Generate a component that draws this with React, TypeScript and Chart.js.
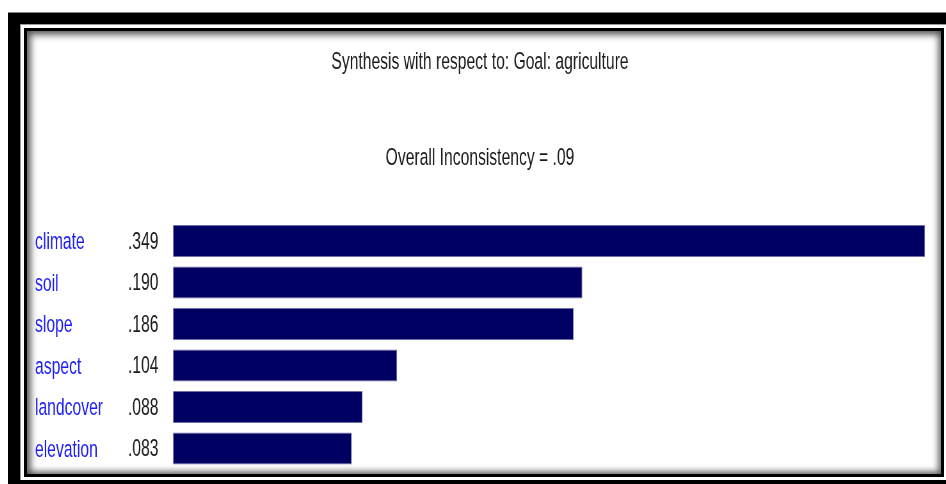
import React, { useEffect, useRef } from 'react';
import { Chart, registerables } from 'chart.js';

Chart.register(...registerables);

const titleText = 'Synthesis with respect to: Goal: agriculture';
const subtitleText = 'Overall Inconsistency = .09';
const categories = ['climate', 'soil', 'slope', 'aspect', 'landcover', 'elevation'];
const priorities = [0.349, 0.19, 0.186, 0.104, 0.088, 0.083];
const valueLabels = ['.349', '.190', '.186', '.104', '.088', '.083'];

const SQUEEZE = 0.64;
const CW = 1427;
const CH = 442;
const FONT = "'Liberation Sans', Arial, sans-serif";

export default function App() {
  const ref = useRef<HTMLCanvasElement | null>(null);

  useEffect(() => {
    if (!ref.current) return;
    const chart = new Chart(ref.current, {
      type: 'bar',
      data: {
        labels: categories,
        datasets: [
          {
            data: priorities,
            xAxisID: 'x',
            yAxisID: 'yName',
            backgroundColor: '#000062',
            borderColor: '#7070b0',
            borderWidth: 1,
            borderSkipped: false,
            barPercentage: 0.77,
            categoryPercentage: 1,
          },
        ],
      },
      options: {
        indexAxis: 'y',
        responsive: false,
        animation: false,
        devicePixelRatio: 1,
        layout: { padding: { left: 12.5, right: 24, top: 0, bottom: 3.75 } },
        scales: {
          x: {
            type: 'linear',
            display: false,
            min: 0,
            max: Math.max(...priorities),
          },
          yName: {
            type: 'category',
            position: 'left',
            labels: categories,
            offset: true,
            weight: 1,
            grid: { display: false },
            border: { display: false },
            ticks: {
              autoSkip: false,
              crossAlign: 'far',
              labelOffset: 1.5,
              color: '#1c1cf5',
              font: { family: FONT, size: 24.5 },
            },
            afterFit: (s: any) => {
              s.width = 145.3;
              s.paddingTop = 0;
              s.paddingBottom = 0;
            },
          },
          yVal: {
            type: 'category',
            position: 'left',
            labels: valueLabels,
            offset: true,
            weight: 0,
            grid: { display: false },
            border: { display: false },
            ticks: {
              autoSkip: false,
              crossAlign: 'far',
              labelOffset: 1,
              color: '#1b1b1b',
              font: { family: FONT, size: 24.5 },
            },
            afterFit: (s: any) => {
              s.width = 70.3;
              s.paddingTop = 0;
              s.paddingBottom = 0;
            },
          },
        },
        plugins: {
          legend: { display: false },
          tooltip: { enabled: false },
          title: {
            display: true,
            text: titleText,
            color: '#1b1b1b',
            font: { family: FONT, size: 24.5, weight: 'normal' },
            padding: { top: 17, bottom: 0 },
          },
          subtitle: {
            display: true,
            text: subtitleText,
            color: '#1b1b1b',
            font: { family: FONT, size: 24.5, weight: 'normal' },
            padding: { top: 66, bottom: 47.4 },
          },
        },
      },
    });
    return () => chart.destroy();
  }, []);

  return (
    <div
      style={{
        position: 'fixed',
        left: 0,
        top: 0,
        width: 946,
        height: 484,
        background: '#fff',
        overflow: 'hidden',
      }}
    >
      <div
        style={{
          position: 'absolute',
          left: 8,
          top: 12,
          width: 960,
          height: 500,
          background: '#000',
          borderTop: '1px solid #888',
          boxSizing: 'border-box',
        }}
      />
      <div
        style={{
          position: 'absolute',
          left: 20,
          top: 24,
          width: 926,
          height: 456,
          background: '#fff',
          borderLeft: '1px solid #999',
          borderTop: '1px solid #999',
          boxSizing: 'border-box',
        }}
      />
      <div
        style={{
          position: 'absolute',
          left: 24,
          top: 28,
          width: 920,
          height: 449,
          border: '3px solid #000',
          boxSizing: 'border-box',
          background: '#fff',
          boxShadow: 'inset 2px 2px 7px 2px rgba(0,0,0,0.5), inset -1px -1px 6px 2px rgba(0,0,0,0.4)',
        }}
      />
      <div style={{ position: 'absolute', left: 27, top: 31, width: CW * SQUEEZE, height: CH }}>
        <div
          style={{
            width: CW,
            height: CH,
            transform: `scaleX(${SQUEEZE})`,
            transformOrigin: '0 0',
          }}
        >
          <canvas ref={ref} width={CW} height={CH} style={{ display: 'block', width: CW, height: CH }} />
        </div>
      </div>
    </div>
  );
}
